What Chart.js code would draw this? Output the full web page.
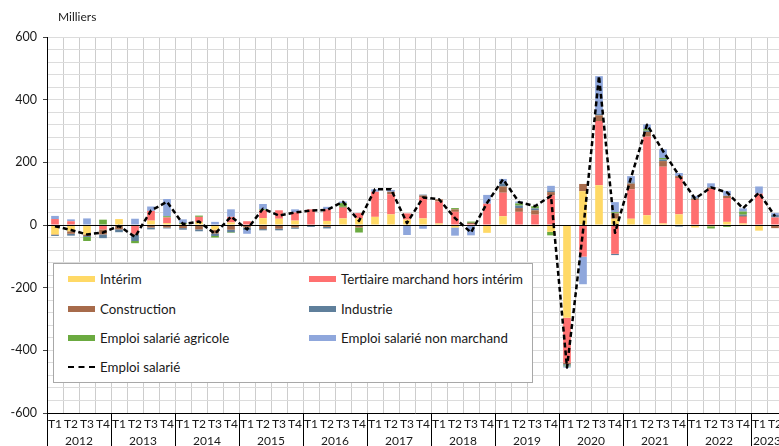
<!DOCTYPE html>
<html lang="fr">
<head>
<meta charset="utf-8">
<title>Emploi salarié</title>
<script src="https://cdn.jsdelivr.net/npm/chart.js@4.4.1/dist/chart.umd.min.js"></script>
<style>
  html, body { margin: 0; padding: 0; background: #fff; overflow: hidden; }
  #wrap { position: relative; width: 790px; height: 446px; }
  #unit { position: absolute; left: 58px; top: 9px; font: 12px Lato, sans-serif; color: #222; }
  #legend {
    position: absolute; left: 53px; top: 263px; width: 478px; height: 118px;
    background: #fff; border: 1px solid #a8a8a8; font: 13.3px Lato, sans-serif; color: #1a1a1a;
  }
  .item { position: absolute; height: 16px; display: flex; align-items: center; white-space: nowrap; }
  .sw { width: 27px; height: 6px; margin-right: 5px; flex: none; }
  .dash { width: 27px; height: 0; border-top: 2.5px dashed #000; margin-right: 5px; flex: none; }
</style>
</head>
<body>
<div id="wrap">
  <canvas id="chart" width="790" height="446"></canvas>
  <div id="unit">Milliers</div>
  <div id="legend"></div>
</div>
<script>
// quarters 2012 T1 .. 2023 T2
const years = ['2012', '2013', '2014', '2015', '2016', '2017', '2018', '2019', '2020', '2021', '2022', '2023'];
const quarters = ['T1', 'T2', 'T3', 'T4'];
const nbPeriods = 46;

// contributions, in thousands
const interim      = [-30, -20, -30, 0, 19, 0, 14, 6,   3, 10, -15, 8, 0, 22, 20, 14,   0, 13, 21, 21, 26, 34, 17, 21,   5, -8, -3, -25, 28, 0, -4, -22,   -296, 108, 127, 20, 20, 31, 5, 34,   -8, -4, 10, 5, -18, 0];
const tertiaire    = [19, 12, 0, -14, 0, -28, 31, 18,   0, 16, 0, 18, 12, 25, 27, 26,   50, 37, 34, 17, 80, 64, 20, 68,   70, 42, 3, 68, 75, 42, 33, 95,   -143, -101, 205, -92, 94, 251, 181, 116,   80, 115, 76, 21, 100, 24];
const construction = [-2, -8, -5, -16, -14, -3, -8, -8,   -10, -14, -12, -15, -8, -13, -12, -8,   -3, -6, 3, -8, 0, 8, 0, 5,   7, 8, 4, 0, 20, 12, 14, 10,   -5, 23, 18, 17, 18, 15, 18, 6,   4, 4, 7, 3, 0, -10];
const industrie    = [-3, -6, -3, -12, -9, -20, -6, -3,   -5, -6, -8, -8, -8, -4, -5, -4,   -3, -5, 0, 0, 0, 0, -2, 3,   0, 0, 0, 0, 10, 8, 6, 5,   -4, 0, 5, -4, 4, 4, 5, -5,   4, 2, 0, 4, 0, 8];
const agricole     = [0, 0, -13, 17, 0, -7, 0, 4,   3, 4, -5, -2, 0, 3, 0, 0,   0, 0, 12, -16, 0, 0, 0, 0,   0, 4, 4, 0, 0, 7, 7, -11,   -3, 0, 0, 4, 0, 5, 5, 0,   0, -7, -6, 10, 0, 0];
const nonMarchand  = [10, 6, 21, 0, 0, 20, 14, 55,   12, 0, 10, 24, -12, 17, 0, 10,   0, 8, 5, 0, 8, 6, -30, -12,   0, -26, -30, 28, 14, 6, 0, 15,   -4, -88, 120, 32, 20, 15, 28, 10,   5, 12, 16, 10, 23, 6];
const emploi       = [-4, -16, -30, -24, -3, -38, 46, 74,   3, 11, -28, 27, -14, 52, 30, 40,   46, 48, 74, 13, 114, 114, 6, 88,   82, 22, -24, 70, 146, 73, 60, 93,   -455, -20, 475, -25, 151, 320, 236, 158,   84, 120, 104, 53, 103, 28];

const yMin = -600, yMax = 600, yStep = 40, yLabelStep = 200;

const categories = [];
for (let i = 0; i < nbPeriods; i++) {
  categories.push(years[Math.floor(i / 4)] + ' ' + quarters[i % 4]);
}

const FONT = 'Lato, sans-serif';

function bar(label, data, color) {
  return {
    type: 'bar', label: label, data: data, backgroundColor: color,
    stack: 'contrib', order: 1, barPercentage: 0.48, categoryPercentage: 1
  };
}

const datasets = [
  bar('Intérim', interim, '#FFD966'),
  bar('Tertiaire marchand hors intérim', tertiaire, '#FF7070'),
  bar('Construction', construction, '#A76B4B'),
  bar('Industrie', industrie, '#5F7F9B'),
  bar('Emploi salarié agricole', agricole, '#6BAA40'),
  bar('Emploi salarié non marchand', nonMarchand, '#8FA7DC'),
  {
    type: 'line', label: 'Emploi salarié', data: emploi, stack: 'total', order: 0,
    borderColor: '#000', borderWidth: 2.5, borderDash: [5, 3], borderJoinStyle: 'round',
    pointRadius: 0, fill: false, tension: 0
  }
];

// year labels + separators under the quarter axis, zero line on top of bars
const yearAxis = {
  id: 'yearAxis',
  afterDatasetsDraw(chart) {
    const ctx = chart.ctx, area = chart.chartArea;
    const y0 = Math.round(chart.scales.y.getPixelForValue(0)) + 0.5;
    ctx.save();
    ctx.strokeStyle = '#000';
    ctx.lineWidth = 1;
    ctx.beginPath();
    ctx.moveTo(area.left, y0);
    ctx.lineTo(area.right, y0);
    ctx.stroke();
    ctx.restore();
  },
  afterDraw(chart) {
    const x = chart.scales.x, ctx = chart.ctx, area = chart.chartArea;
    const half = (x.getPixelForValue(1) - x.getPixelForValue(0)) / 2;
    ctx.save();
    ctx.strokeStyle = '#000';
    ctx.lineWidth = 1;
    ctx.fillStyle = '#1a1a1a';
    ctx.font = '12px ' + FONT;
    ctx.textAlign = 'center';
    ctx.textBaseline = 'middle';
    years.forEach((yr, i) => {
      const first = i * 4;
      const last = Math.min(i * 4 + 3, nbPeriods - 1);
      if (first >= nbPeriods) return;
      const left = Math.round(x.getPixelForValue(first) - half) + 0.5;
      ctx.beginPath();
      ctx.moveTo(left, area.bottom);
      ctx.lineTo(left, chart.height);
      ctx.stroke();
      const c = (x.getPixelForValue(first) + x.getPixelForValue(last)) / 2;
      ctx.fillText(yr, c, 441);
    });
    ctx.restore();
  }
};

const chart = new Chart(document.getElementById('chart'), {
  data: { labels: categories, datasets: datasets },
  options: {
    responsive: false,
    animation: false,
    layout: { padding: { top: 37, right: 7, left: 0, bottom: 0 } },
    plugins: { legend: { display: false }, tooltip: { enabled: false } },
    scales: {
      x: {
        stacked: true,
        offset: true,
        afterFit: (s) => { s.height = 33; },
        grid: { offset: true, drawTicks: false, color: '#cdcdcd', lineWidth: 1 },
        border: { color: '#000', width: 1 },
        ticks: {
          autoSkip: false, maxRotation: 0, padding: 4,
          font: { family: FONT, size: 12 }, color: '#1a1a1a',
          callback: (v, i) => categories[i].split(' ')[1]
        }
      },
      y: {
        stacked: true,
        min: yMin, max: yMax,
        afterFit: (s) => { s.width = 47; },
        grid: {
          color: (c) => (c.tick && c.tick.value === 0 ? '#000' : '#dcdcdc'),
          tickLength: 4,
          tickColor: (c) => (c.tick && c.tick.value % yLabelStep === 0 ? '#444' : 'rgba(0,0,0,0)')
        },
        border: { color: '#000', width: 1 },
        ticks: {
          stepSize: yStep, autoSkip: false, maxTicksLimit: 100, padding: 6,
          font: { family: FONT, size: 12.5 }, color: '#1a1a1a',
          callback: (v) => (v % yLabelStep === 0 ? String(v) : '')
        }
      }
    }
  },
  plugins: [yearAxis]
});

// legend box inside the plot, built from the datasets
const legend = document.getElementById('legend');
const colX = [14, 255];
const rowY = [7, 37, 66, 95];
chart.data.datasets.forEach((ds, i) => {
  const item = document.createElement('div');
  item.className = 'item';
  item.style.left = colX[i % 2] + 'px';
  item.style.top = rowY[Math.floor(i / 2)] + 'px';
  const sw = document.createElement('span');
  if (ds.type === 'line') {
    sw.className = 'dash';
  } else {
    sw.className = 'sw';
    sw.style.background = ds.backgroundColor;
  }
  item.appendChild(sw);
  item.appendChild(document.createTextNode(ds.label));
  legend.appendChild(item);
});
</script>
</body>
</html>
